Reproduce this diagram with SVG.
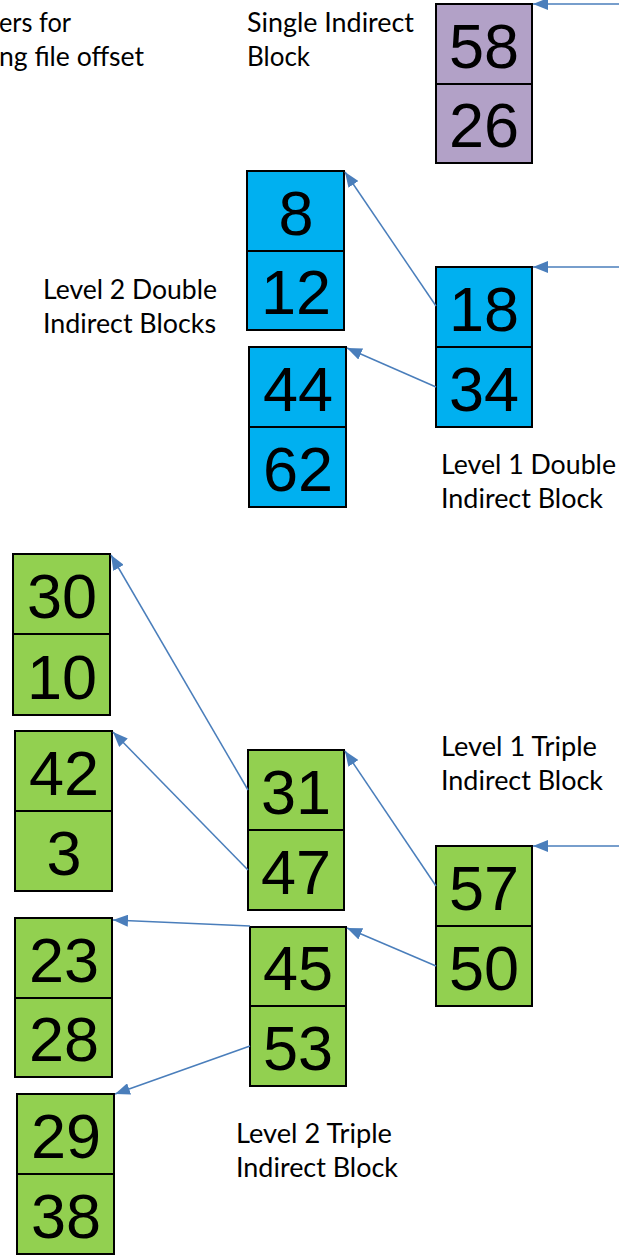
<svg xmlns="http://www.w3.org/2000/svg" width="619" height="1256" viewBox="0 0 619 1256">
<style>
.cell{stroke:#000;stroke-width:2}
.p{fill:#B2A1C7}.b{fill:#00B0F0}.g{fill:#92D050}
.num{font-family:"Liberation Sans",Arial,sans-serif;font-size:63px;fill:#000;text-anchor:middle}
.lbl{font-family:Lato,"Open Sans",sans-serif;font-size:26px;fill:#000}
.conn line{stroke:#4A7EBB;stroke-width:1.5;fill:none;marker-end:url(#ah)}
</style>
<defs>
<marker id="ah" markerUnits="userSpaceOnUse" markerWidth="16" markerHeight="12" refX="15" refY="6" orient="auto">
<path d="M0,0 L15,6 L0,12 z" fill="#4A7EBB"/>
</marker>
</defs>
<rect width="619" height="1256" fill="#fff"/>

<g id="labels">
<text class="lbl" x="-1" y="32" textLength="72" lengthAdjust="spacingAndGlyphs">ers for</text>
<text class="lbl" x="-1" y="66" textLength="145" lengthAdjust="spacingAndGlyphs">ng file offset</text>
<text class="lbl" x="247" y="32" textLength="167" lengthAdjust="spacingAndGlyphs">Single Indirect</text>
<text class="lbl" x="247" y="66" textLength="63" lengthAdjust="spacingAndGlyphs">Block</text>
<text class="lbl" x="43" y="299" textLength="174" lengthAdjust="spacingAndGlyphs">Level 2 Double</text>
<text class="lbl" x="43" y="333" textLength="173" lengthAdjust="spacingAndGlyphs">Indirect Blocks</text>
<text class="lbl" x="441" y="474" textLength="175" lengthAdjust="spacingAndGlyphs">Level 1 Double</text>
<text class="lbl" x="441" y="508" textLength="162" lengthAdjust="spacingAndGlyphs">Indirect Block</text>
<text class="lbl" x="441" y="756" textLength="156" lengthAdjust="spacingAndGlyphs">Level 1 Triple</text>
<text class="lbl" x="441" y="790" textLength="162" lengthAdjust="spacingAndGlyphs">Indirect Block</text>
<text class="lbl" x="236" y="1143" textLength="156" lengthAdjust="spacingAndGlyphs">Level 2 Triple</text>
<text class="lbl" x="236" y="1177" textLength="162" lengthAdjust="spacingAndGlyphs">Indirect Block</text>
</g>

<g id="single">
<rect class="cell p" x="436" y="4" width="96" height="80"/>
<rect class="cell p" x="436" y="84" width="96" height="79"/>
<text class="num" x="484" y="68">58</text>
<text class="num" x="484" y="147">26</text>
</g>

<g id="dbl2a">
<rect class="cell b" x="247" y="171" width="97" height="80"/>
<rect class="cell b" x="247" y="251" width="97" height="79"/>
<text class="num" x="296" y="235">8</text>
<text class="num" x="296" y="314">12</text>
</g>
<g id="dbl2b">
<rect class="cell b" x="249" y="347" width="97" height="80"/>
<rect class="cell b" x="249" y="427" width="97" height="80"/>
<text class="num" x="298" y="411">44</text>
<text class="num" x="298" y="491">62</text>
</g>
<g id="dbl1">
<rect class="cell b" x="436" y="267" width="96" height="80"/>
<rect class="cell b" x="436" y="347" width="96" height="80"/>
<text class="num" x="484" y="331">18</text>
<text class="num" x="484" y="411">34</text>
</g>

<g id="t3a">
<rect class="cell g" x="13" y="554" width="97" height="80"/>
<rect class="cell g" x="13" y="634" width="97" height="81"/>
<text class="num" x="62" y="618">30</text>
<text class="num" x="62" y="699">10</text>
</g>
<g id="t3b">
<rect class="cell g" x="15" y="731" width="97" height="80"/>
<rect class="cell g" x="15" y="811" width="97" height="80"/>
<text class="num" x="64" y="795">42</text>
<text class="num" x="64" y="875">3</text>
</g>
<g id="t3c">
<rect class="cell g" x="15" y="918" width="97" height="80"/>
<rect class="cell g" x="15" y="998" width="97" height="79"/>
<text class="num" x="64" y="982">23</text>
<text class="num" x="64" y="1061">28</text>
</g>
<g id="t3d">
<rect class="cell g" x="17" y="1094" width="97" height="80"/>
<rect class="cell g" x="17" y="1174" width="97" height="80"/>
<text class="num" x="66" y="1158">29</text>
<text class="num" x="66" y="1238">38</text>
</g>
<g id="t2a">
<rect class="cell g" x="248" y="750" width="96" height="80"/>
<rect class="cell g" x="248" y="830" width="96" height="80"/>
<text class="num" x="296" y="814">31</text>
<text class="num" x="296" y="894">47</text>
</g>
<g id="t2b">
<rect class="cell g" x="250" y="927" width="96" height="79"/>
<rect class="cell g" x="250" y="1006" width="96" height="80"/>
<text class="num" x="298" y="990">45</text>
<text class="num" x="298" y="1070">53</text>
</g>
<g id="t1">
<rect class="cell g" x="436" y="846" width="96" height="80"/>
<rect class="cell g" x="436" y="926" width="96" height="80"/>
<text class="num" x="484" y="910">57</text>
<text class="num" x="484" y="990">50</text>
</g>

<g class="conn" id="connectors">
<line x1="620" y1="4" x2="533" y2="4"/>
<line x1="620" y1="267" x2="533" y2="267"/>
<line x1="436" y1="306" x2="345" y2="172"/>
<line x1="436" y1="387" x2="347" y2="348"/>
<line x1="620" y1="846" x2="533" y2="846"/>
<line x1="248" y1="790" x2="111" y2="555"/>
<line x1="248" y1="870" x2="113" y2="732"/>
<line x1="436" y1="886" x2="345" y2="751"/>
<line x1="436" y1="966" x2="347" y2="928"/>
<line x1="250" y1="926" x2="113" y2="920"/>
<line x1="250" y1="1046" x2="115" y2="1094"/>
</g>
</svg>
